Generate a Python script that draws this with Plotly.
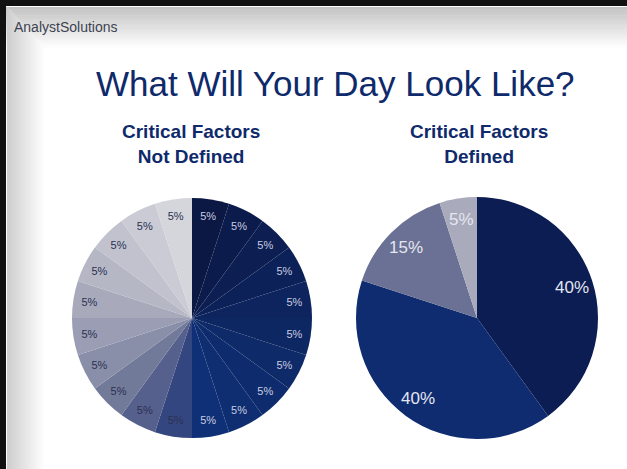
# plot.py
# Two pies comparing a day without and with defined critical factors
import math

import plotly.graph_objects as go

W, H = 627, 469

left_labels = [f"Task {i}" for i in range(1, 21)]
left_values = [5, 5, 5, 5, 5, 5, 5, 5, 5, 5, 5, 5, 5, 5, 5, 5, 5, 5, 5, 5]
left_text = ["5%"] * 20
left_colors = [
    "#0a1843", "#0b1b4b", "#0c1e52", "#0c2158", "#0d245e",
    "#0d2763", "#0e2a68", "#0e2c6d", "#0f2e72", "#0f3076",
    "#34467f", "#56608c", "#727a9a", "#8a8fa9", "#9a9db3",
    "#a8aabc", "#b5b7c5", "#c1c2cd", "#cacbd4", "#d5d6dc",
]
left_text_colors = ["#c9cce0"] * 10 + ["#2b3152"] * 10

right_labels = ["Critical A", "Critical B", "Other", "Unplanned"]
right_values = [40, 40, 15, 5]
right_text = ["40%", "40%", "15%", "5%"]
right_colors = ["#0b1d52", "#0f2c70", "#6b7194", "#a9aabb"]

NAVY = "#0f2a6b"
FONT = "Liberation Sans, Arial, sans-serif"


def px_x(x):
    return x / W


def px_y(y):
    return 1 - y / H


left_dom = dict(x=[px_x(72), px_x(312)], y=[px_y(438), px_y(198)])
right_dom = dict(x=[px_x(355), px_x(599)], y=[px_y(439), px_y(197)])

fig = go.Figure()

fig.add_trace(
    go.Pie(
        labels=left_labels,
        values=left_values,
        text=left_text,
        textinfo="text",
        textposition="inside",
        insidetextorientation="horizontal",
        textfont=dict(family=FONT, size=11, color=left_text_colors),
        marker=dict(colors=left_colors, line=dict(width=0)),
        sort=False,
        direction="clockwise",
        rotation=0,
        domain=left_dom,
        showlegend=False,
        hoverinfo="label+percent",
    )
)

fig.add_trace(
    go.Pie(
        labels=right_labels,
        values=right_values,
        textinfo="none",
        marker=dict(colors=right_colors, line=dict(width=0)),
        sort=False,
        direction="clockwise",
        rotation=0,
        domain=right_dom,
        showlegend=False,
        hoverinfo="label+percent",
    )
)

# right pie labels sit out toward the rim, at each slice's mid angle
annotations = []
cx = (right_dom["x"][0] + right_dom["x"][1]) / 2 * W
cy = (1 - (right_dom["y"][0] + right_dom["y"][1]) / 2) * H
rad = (right_dom["x"][1] - right_dom["x"][0]) * W / 2
total = sum(right_values)
acc = 0
for v, t in zip(right_values, right_text):
    mid = (acc + v / 2) / total * 2 * math.pi
    acc += v
    tx = cx + 0.82 * rad * math.sin(mid)
    ty = cy - 0.82 * rad * math.cos(mid)
    annotations.append(dict(text=t, x=px_x(tx), y=px_y(ty), xanchor="center",
                            yanchor="middle",
                            font=dict(family=FONT, size=17, color="#e4e6f0")))

# Slide background: grey fades along the top and left edges, black frame
shapes = []
steps = 24
for i in range(steps):
    g = int(196 + (255 - 196) * i / steps)
    col = f"rgb({g},{g},{g})"
    y0 = 7 + i * 40 / steps
    shapes.append(dict(type="rect", xref="paper", yref="paper", layer="below",
                       x0=0, x1=1, y0=px_y(y0 + 40 / steps + 0.5), y1=px_y(y0),
                       fillcolor=col, line=dict(width=0)))
for i in range(steps):
    g = int(206 + (255 - 206) * i / steps)
    col = f"rgb({g},{g},{g})"
    x0 = 7 + i * 36 / steps
    shapes.append(dict(type="rect", xref="paper", yref="paper", layer="below",
                       x0=px_x(x0), x1=px_x(x0 + 36 / steps + 0.5),
                       y0=0, y1=px_y(7 + 40 * i / steps),
                       fillcolor=col, line=dict(width=0)))
shapes.append(dict(type="rect", xref="paper", yref="paper", x0=0, x1=1,
                   y0=px_y(6), y1=1, fillcolor="#111111", line=dict(width=0)))
shapes.append(dict(type="rect", xref="paper", yref="paper", x0=0, x1=px_x(6),
                   y0=0, y1=1, fillcolor="#111111", line=dict(width=0)))

annotations += [
    dict(text="AnalystSolutions", x=px_x(12), y=px_y(27), xanchor="left",
         yanchor="middle", font=dict(family=FONT, size=14, color="#3d4252")),
    dict(text="What Will Your Day Look Like?", x=px_x(335), y=px_y(83),
         xanchor="center", yanchor="middle",
         font=dict(family=FONT, size=35, color=NAVY)),
    dict(text="<b>Critical Factors<br>Not Defined</b>", x=px_x(191), y=px_y(144),
         xanchor="center", yanchor="middle",
         font=dict(family=FONT, size=19, color=NAVY)),
    dict(text="<b>Critical Factors<br>Defined</b>", x=px_x(479), y=px_y(144),
         xanchor="center", yanchor="middle",
         font=dict(family=FONT, size=19, color=NAVY)),
]
for a in annotations:
    a.update(xref="paper", yref="paper", showarrow=False)

fig.update_layout(
    width=W,
    height=H,
    margin=dict(l=0, r=0, t=0, b=0),
    paper_bgcolor="white",
    plot_bgcolor="white",
    shapes=shapes,
    annotations=annotations,
)

# drop the page's default body margin so the slide fills the window
fig.write_html(
    "out.html",
    config={"displayModeBar": False},
    post_script="document.body.style.margin='0';",
)
